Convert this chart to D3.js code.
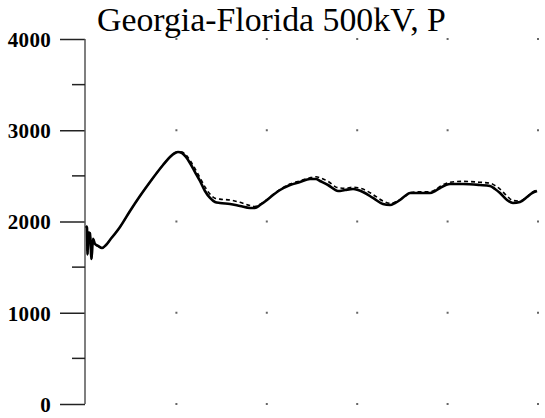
<!DOCTYPE html>
<html>
<head>
<meta charset="utf-8">
<script src="https://cdn.jsdelivr.net/npm/d3@7"></script>
<style>
  body { margin: 0; background: #fff; }
  svg { display: block; }
</style>
</head>
<body>
<svg></svg>
<script>
//* Georgia-Florida 500kV tie line, active power P (two runs: solid and dashed)
const width = 545;
const height = 418;

const title = "Georgia-Florida 500kV, P";

// time axis has no labels, grid every unit
const xGrid = [1, 2, 3, 4, 5];
const yMajor = [0, 1000, 2000, 3000, 4000];
const yMinor = [500, 1500, 2500, 3500];

const times = [
  0, 0.011, 0.017, 0.028, 0.044, 0.061, 0.077, 0.10, 0.133, 0.177,
  0.221, 0.265, 0.376, 0.487, 0.597, 0.708, 0.852, 0.929, 0.985, 1.018,
  1.062, 1.106, 1.150, 1.206, 1.261, 1.316, 1.372, 1.427, 1.482, 1.593,
  1.704, 1.814, 1.869, 1.925, 2.002, 2.069, 2.146, 2.257, 2.367, 2.478,
  2.544, 2.588, 2.677, 2.788, 2.865, 2.954, 3.009, 3.064, 3.175, 3.285,
  3.363, 3.418, 3.473, 3.529, 3.584, 3.695, 3.805, 3.861, 3.916, 4.027,
  4.170, 4.358, 4.469, 4.524, 4.580, 4.657, 4.723, 4.801, 4.878, 4.934,
  4.989];

const solidP = [
  1950, 1930, 1640, 1880, 1870, 1590, 1810, 1753, 1732, 1710,
  1742, 1797, 1940, 2115, 2279, 2433, 2619, 2707, 2751, 2762,
  2751, 2707, 2641, 2542, 2444, 2334, 2258, 2214, 2203, 2192,
  2170, 2148, 2148, 2181, 2236, 2290, 2345, 2400, 2433, 2466,
  2466, 2444, 2400, 2334, 2345, 2356, 2345, 2323, 2258, 2192,
  2181, 2203, 2236, 2279, 2312, 2312, 2312, 2334, 2367, 2411,
  2411, 2400, 2389, 2356, 2312, 2236, 2203, 2214, 2268, 2312,
  2334];

const dashedP = [
  1950, 1930, 1640, 1880, 1870, 1590, 1810, 1753, 1732, 1710,
  1742, 1797, 1940, 2115, 2279, 2433, 2619, 2710, 2755, 2765,
  2760, 2730, 2670, 2580, 2480, 2380, 2300, 2255, 2245, 2235,
  2210, 2175, 2165, 2190, 2240, 2295, 2350, 2410, 2445, 2480,
  2490, 2480, 2440, 2370, 2365, 2375, 2370, 2355, 2295, 2225,
  2200, 2210, 2240, 2280, 2315, 2325, 2325, 2345, 2385, 2430,
  2440, 2430, 2420, 2395, 2355, 2280, 2230, 2225, 2270, 2320,
  2345];

const x = d3.scaleLinear().domain([0, 5]).range([86, 538]);
const y = d3.scaleLinear().domain([0, 4000]).range([404, 39]);

const svg = d3.select("svg")
  .attr("width", width)
  .attr("height", height);

svg.append("text")
  .attr("x", 97)
  .attr("y", 31)
  .attr("font-family", "'Liberation Serif', 'Times New Roman', serif")
  .attr("font-size", 33.8)
  .attr("fill", "#000")
  .text(title);

// dotted grid: one dot per crossing
const crossings = xGrid.flatMap(t => yMajor.map(v => ({t, v})));
svg.append("g")
  .selectAll("rect")
  .data(crossings)
  .join("rect")
    .attr("x", d => x(d.t) - 1)
    .attr("y", d => y(d.v) - 1)
    .attr("width", 2)
    .attr("height", 2)
    .attr("fill", "#666");

// left axis, long ticks on the thousands, short ones on the halves
const yAxis = d3.axisLeft(y)
  .tickValues(yMajor)
  .tickSize(25)
  .tickPadding(9)
  .tickFormat(d3.format("d"));

const axisG = svg.append("g")
  .attr("transform", `translate(${x(0) - 1},0)`)
  .call(yAxis);

axisG.select(".domain").remove();
axisG.append("line")
  .attr("y1", y(4000))
  .attr("y2", y(0))
  .attr("stroke", "#555")
  .attr("stroke-width", 1.5);
axisG.selectAll(".tick line")
  .attr("stroke", "#222")
  .attr("stroke-width", 1.5);
axisG.selectAll(".tick text")
  .attr("font-family", "'Liberation Serif', 'Times New Roman', serif")
  .attr("font-size", 21)
  .attr("font-weight", "bold")
  .attr("letter-spacing", 0.3)
  .attr("fill", "#000")
  .attr("dy", "0.35em");

axisG.selectAll(".minor")
  .data(yMinor)
  .join("line")
    .classed("minor", true)
    .attr("x1", -13)
    .attr("x2", 0)
    .attr("y1", d => y(d))
    .attr("y2", d => y(d))
    .attr("stroke", "#222")
    .attr("stroke-width", 1.5);

const line = d3.line()
  .x((d, i) => x(times[i]))
  .y(d => y(d))
  .curve(d3.curveMonotoneX);

svg.append("path")
  .datum(dashedP)
  .attr("fill", "none")
  .attr("stroke", "#000")
  .attr("stroke-width", 1.6)
  .attr("stroke-dasharray", "4,3")
  .attr("d", line);

svg.append("path")
  .datum(solidP)
  .attr("fill", "none")
  .attr("stroke", "#000")
  .attr("stroke-width", 2.6)
  .attr("stroke-linejoin", "round")
  .attr("d", line);
</script>
</body>
</html>
